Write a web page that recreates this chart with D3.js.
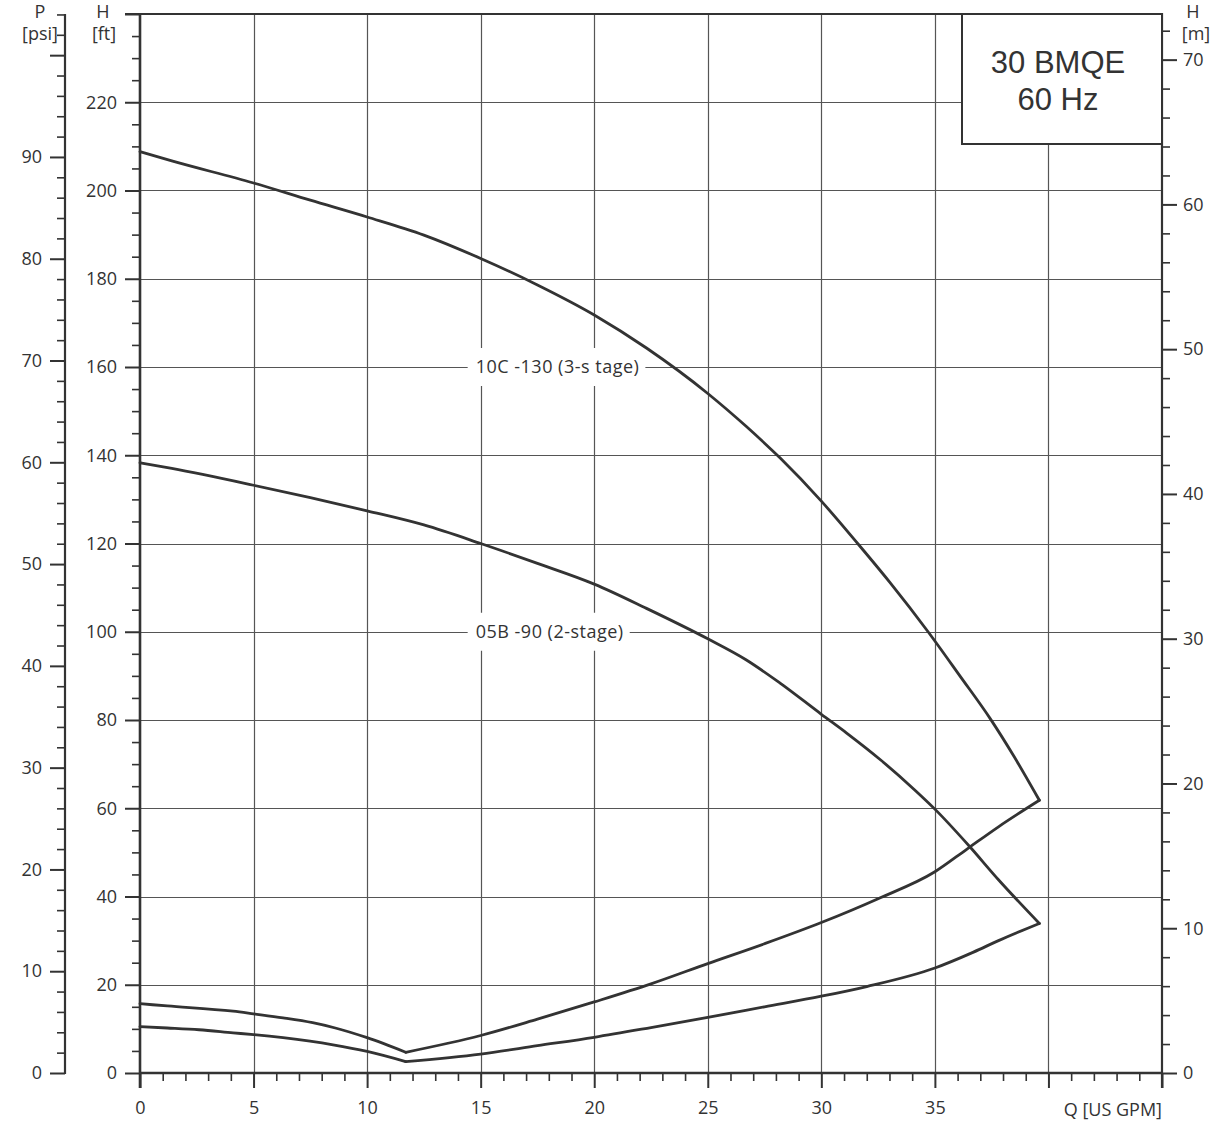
<!DOCTYPE html>
<html>
<head>
<meta charset="utf-8">
<script src="https://cdn.jsdelivr.net/npm/d3@7"></script>
<style>
  html, body { margin: 0; padding: 0; background: #fff; }
  svg { display: block; }
  text { font-family: "Open Sans", "Noto Sans", sans-serif; fill: #333; }
</style>
</head>
<body>
<svg id="chart" width="1217" height="1124"></svg>
<script>
// ---- Data ----
// Q in US GPM, H in ft
const q3stage = [0, 1.4, 5, 7.5, 10, 12.5, 15, 17.5, 20, 22.3, 25, 26.7, 28.2, 30, 31.6, 33.0, 34.7, 36.1, 37.45, 38.5, 39.6];
const h3stage = [208.8, 206.7, 201.7, 197.8, 194.0, 189.9, 184.6, 178.6, 171.8, 164.3, 154.0, 146.5, 139.3, 129.6, 120, 111.3, 100, 90.0, 80.2, 71.6, 61.8];

const q2stage = [0, 1.4, 5, 7.5, 10, 12.5, 15, 17.5, 20, 22.3, 25, 26.7, 28.2, 30, 31.1, 32.6, 34.1, 35, 36.5, 37.8, 39.6];
const h2stage = [138.3, 137.0, 133.2, 130.4, 127.4, 124.2, 120.0, 115.5, 110.8, 105.3, 98.4, 93.6, 88.3, 81.3, 77.1, 71.0, 64.2, 59.8, 51.5, 43.8, 33.9];

const qLow3 = [0, 1.2, 4.1, 5, 6.3, 7.6, 8.6, 10, 11.7, 15, 17.5, 20, 22.5, 25, 27.5, 30, 32.5, 35, 36.4, 37.8, 39.6];
const hLow3 = [15.7, 15.2, 14.0, 13.4, 12.5, 11.4, 10.2, 8.0, 4.7, 8.5, 12.2, 16.1, 20.2, 24.8, 29.3, 34.1, 39.5, 45.6, 50.7, 55.8, 61.8];

const qLow2 = [0, 1.2, 2.6, 4.1, 5, 6.3, 8.5, 10, 11.7, 15, 17.5, 20, 22.5, 25, 27.5, 30, 32, 35, 36.7, 37.8, 39.6];
const hLow2 = [10.5, 10.2, 9.8, 9.1, 8.7, 8.0, 6.4, 4.9, 2.6, 4.3, 6.2, 8.1, 10.3, 12.6, 15.0, 17.4, 19.6, 23.8, 27.4, 30.0, 33.9];

const curveLabels = ["10C -130 (3-s tage)", "05B -90 (2-stage)"];
const curveLabelAt = [[15, 160], [15, 100]];   // [Q, H ft] where label sits

const xTicksMajor = [0, 5, 10, 15, 20, 25, 30, 35, 40, 45];
const xTickLabels = ["0", "5", "10", "15", "20", "25", "30", "35", "", ""];
const ftTicksMajor = [0, 20, 40, 60, 80, 100, 120, 140, 160, 180, 200, 220, 240];
const psiTicksMajor = [0, 10, 20, 30, 40, 50, 60, 70, 80, 90, 100];
const mTicksMajor = [0, 10, 20, 30, 40, 50, 60, 70];
const titleLines = ["30 BMQE", "60 Hz"];

(function draw() {
const svg = d3.select("#chart");
const pL = 140, pR = 1162, pT = 14, pB = 1073;
const FT_PER_PSI = 2.3067, FT_PER_M = 3.2808;
const ftMax = 240;
const FS = 18;

const x = d3.scaleLinear().domain([0, 45]).range([pL, pR]);
const y = d3.scaleLinear().domain([0, ftMax]).range([pB, pT]);
const yPsi = d3.scaleLinear().domain([0, ftMax / FT_PER_PSI]).range([pB, pT]);
const yM = d3.scaleLinear().domain([0, ftMax / FT_PER_M]).range([pB, pT]);

const ink = "#333";
const gridCol = "#555";

// ---- Grid ----
const grid = svg.append("g");
grid.selectAll("line.v").data(xTicksMajor.filter(d => d > 0 && d < 45)).join("line")
  .attr("x1", d => Math.round(x(d)) + 0.5).attr("x2", d => Math.round(x(d)) + 0.5)
  .attr("y1", pT).attr("y2", pB)
  .attr("stroke", gridCol).attr("stroke-width", 1.2);
grid.selectAll("line.h").data(ftTicksMajor.filter(d => d > 0 && d < 240)).join("line")
  .attr("x1", pL).attr("x2", pR)
  .attr("y1", d => Math.round(y(d)) + 0.5).attr("y2", d => Math.round(y(d)) + 0.5)
  .attr("stroke", gridCol).attr("stroke-width", 1.2);
svg.append("line").attr("x1", pL - 15).attr("x2", pR)
  .attr("y1", y(240)).attr("y2", y(240)).attr("stroke", ink).attr("stroke-width", 2);

// ---- Curve labels with white background ----
curveLabels.forEach((t, i) => {
  const [lq, lh] = curveLabelAt[i];
  const g = svg.append("g");
  const txt = g.append("text")
    .attr("x", x(lq) - 5).attr("y", y(lh)).attr("dy", "0.35em")
    .attr("font-size", FS).attr("letter-spacing", 0.5)
    .text(t);
  const bb = txt.node().getBBox();
  g.insert("rect", "text")
    .attr("x", bb.x - 8).attr("y", y(lh) - 19)
    .attr("width", bb.width + 14).attr("height", 38)
    .attr("fill", "#fff");
});

// ---- Curves (split at interior minimum so the vertex stays sharp) ----
const line = d3.line().x(d => x(d[0])).y(d => y(d[1])).curve(d3.curveMonotoneX);
const series = [
  [q3stage, h3stage],
  [q2stage, h2stage],
  [qLow3, hLow3],
  [qLow2, hLow2]
];
const segs = [];
series.forEach(([qs, hs]) => {
  const pts = qs.map((q, i) => [q, hs[i]]);
  const iMin = d3.minIndex(hs);
  if (iMin > 0 && iMin < pts.length - 1) {
    segs.push(pts.slice(0, iMin + 1));
    segs.push(pts.slice(iMin));
  } else segs.push(pts);
});
svg.append("g").selectAll("path").data(segs).join("path")
  .attr("d", s => line(s))
  .attr("fill", "none").attr("stroke", ink).attr("stroke-width", 2.8)
  .attr("stroke-linejoin", "round").attr("stroke-linecap", "round");

// ---- Axes ----
function styleAxis(g, w) {
  g.select(".domain").remove();
  g.selectAll(".tick line").attr("stroke", ink).attr("stroke-width", w);
  g.selectAll(".tick text").attr("font-size", FS).attr("fill", ink)
    .attr("font-family", '"Open Sans", "Noto Sans", sans-serif');
}

// Left H [ft] axis
const ftMinor = d3.range(0, 241, 5).filter(d => d % 20 !== 0);
const gFtMinor = svg.append("g").attr("transform", `translate(${pL},0)`)
  .call(d3.axisLeft(y).tickValues(ftMinor).tickSize(8).tickFormat(""));
styleAxis(gFtMinor, 1.6);
const gFt = svg.append("g").attr("transform", `translate(${pL},0)`)
  .call(d3.axisLeft(y).tickValues(ftTicksMajor).tickSize(15).tickPadding(8)
    .tickFormat(d => d >= 240 ? "" : String(d)));
styleAxis(gFt, 2);
svg.append("line").attr("x1", pL).attr("x2", pL).attr("y1", pT - 1).attr("y2", pB + 15)
  .attr("stroke", ink).attr("stroke-width", 2.6);

// Left P [psi] axis
const psiX = 65;
const psiMinor = d3.range(0, 105, 2).filter(d => d % 10 !== 0);
const gPsiMinor = svg.append("g").attr("transform", `translate(${psiX},0)`)
  .call(d3.axisLeft(yPsi).tickValues(psiMinor).tickSize(8).tickFormat(""));
styleAxis(gPsiMinor, 1.6);
const gPsi = svg.append("g").attr("transform", `translate(${psiX},0)`)
  .call(d3.axisLeft(yPsi).tickValues(psiTicksMajor).tickSize(15).tickPadding(8)
    .tickFormat(d => d >= 100 ? "" : String(d)));
styleAxis(gPsi, 2);
svg.append("line").attr("x1", psiX).attr("x2", psiX).attr("y1", pT).attr("y2", pB + 1)
  .attr("stroke", ink).attr("stroke-width", 2.2);

// Right H [m] axis
const mMinor = d3.range(0, 73, 2).filter(d => d % 10 !== 0);
const gMMinor = svg.append("g").attr("transform", `translate(${pR},0)`)
  .call(d3.axisRight(yM).tickValues(mMinor).tickSize(8).tickFormat(""));
styleAxis(gMMinor, 1.6);
const gM = svg.append("g").attr("transform", `translate(${pR},0)`)
  .call(d3.axisRight(yM).tickValues(mTicksMajor).tickSize(15).tickPadding(6)
    .tickFormat(d => String(d)));
styleAxis(gM, 2);
svg.append("line").attr("x1", pR).attr("x2", pR).attr("y1", pT - 1).attr("y2", pB + 15)
  .attr("stroke", ink).attr("stroke-width", 2.2);

// Bottom Q axis
const xMinor = d3.range(0, 46, 1).filter(d => d % 5 !== 0);
const gXMinor = svg.append("g").attr("transform", `translate(0,${pB})`)
  .call(d3.axisBottom(x).tickValues(xMinor).tickSize(8).tickFormat(""));
styleAxis(gXMinor, 1.6);
const gX = svg.append("g").attr("transform", `translate(0,${pB})`)
  .call(d3.axisBottom(x).tickValues(xTicksMajor).tickSize(15).tickPadding(13)
    .tickFormat((d, i) => xTickLabels[i]));
styleAxis(gX, 2);
svg.append("line").attr("x1", pL - 1).attr("x2", pR + 1).attr("y1", pB).attr("y2", pB)
  .attr("stroke", ink).attr("stroke-width", 2.6);

// Axis titles
const tA = svg.append("g").attr("font-size", FS);
tA.append("text").attr("x", 40).attr("y", 18).attr("text-anchor", "middle").text("P");
tA.append("text").attr("x", 40).attr("y", 40).attr("text-anchor", "middle").text("[psi]");
tA.append("text").attr("x", 103).attr("y", 18).attr("text-anchor", "middle").text("H");
tA.append("text").attr("x", 104).attr("y", 40).attr("text-anchor", "middle").text("[ft]");
tA.append("text").attr("x", 1193).attr("y", 18).attr("text-anchor", "middle").text("H");
tA.append("text").attr("x", 1196).attr("y", 40).attr("text-anchor", "middle").text("[m]");
tA.append("text").attr("x", pR).attr("y", 1116).attr("text-anchor", "end").text("Q [US GPM]");

// ---- Title box ----
const bx = 962, bw = pR - bx, bh = 130;
svg.append("rect").attr("x", bx).attr("y", pT).attr("width", bw).attr("height", bh)
  .attr("fill", "#fff").attr("stroke", ink).attr("stroke-width", 2);
svg.append("g").selectAll("text").data(titleLines).join("text")
  .attr("x", bx + bw / 2 - 4).attr("y", (d, i) => 73 + i * 37)
  .attr("text-anchor", "middle")
  .style("font-family", '"Liberation Sans", Arial, sans-serif')
  .attr("font-size", 31)
  .text(d => d);
})();
</script>
</body>
</html>
